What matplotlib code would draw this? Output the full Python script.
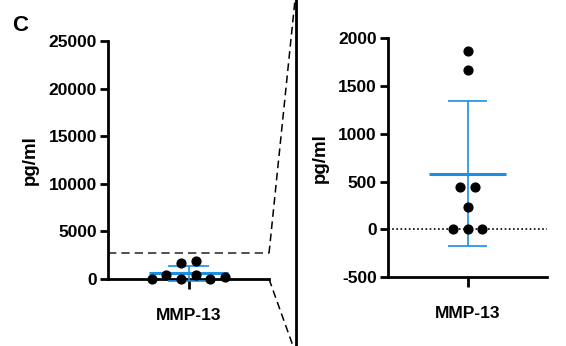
import numpy as np
import matplotlib.pyplot as plt
from matplotlib.lines import Line2D

plt.rcParams['font.family'] = ['Liberation Sans', 'DejaVu Sans']
plt.rcParams['font.weight'] = 'bold'
plt.rcParams['axes.unicode_minus'] = False

group = 'MMP-13'
values = [1870, 1670, 440, 440, 230, 0, 0, 0]       # pg/ml
zoom_top = 2700                                      # top of the dashed zoom box on the full panel
full_ticks = [0, 5000, 10000, 15000, 20000, 25000]
zoom_ticks = [-500, 0, 500, 1000, 1500, 2000]

blue = '#1a8fe3'
vals = np.array(values, dtype=float)
mean = vals.mean()
sd = vals.std(ddof=1)

# horizontal jitter of the dots (scatter dot plot layout)
jit_full = [0.09, -0.09, -0.28, 0.09, 0.45, -0.45, -0.09, 0.27]
jit_zoom = [0, 0, -0.09, 0.09, 0, -0.18, 0, 0.18]

fig = plt.figure(figsize=(5.66, 3.46), dpi=100)
ax1 = fig.add_axes([0.1908, 0.1936, 0.2845, 0.688])
ax2 = fig.add_axes([0.6855, 0.1994, 0.281, 0.690])


def style(ax, ticks):
    for s in ['top', 'right']:
        ax.spines[s].set_visible(False)
    for s in ['left', 'bottom']:
        ax.spines[s].set_linewidth(2.0)
    ax.set_yticks(ticks)
    ax.set_xticks([0])
    ax.set_xticklabels([group])
    ax.tick_params(width=2.0, length=6, labelsize=12.5, pad=2)
    ax.tick_params(axis='x', length=7, pad=14)
    ax.set_xlim(-1, 1)
    ax.set_ylabel('pg/ml', fontsize=13.5, fontweight='bold', labelpad=7)
    for lab in ax.get_xticklabels() + ax.get_yticklabels():
        lab.set_fontweight('bold')


def draw_group(ax, jit, cap, half):
    ax.hlines(mean, -half, half, color=blue, lw=2.2, zorder=3, clip_on=False)
    ax.vlines(0, mean - sd, mean + sd, color=blue, lw=1.2, zorder=3, clip_on=False)
    ax.hlines([mean - sd, mean + sd], -cap, cap, color=blue, lw=1.2, zorder=3, clip_on=False)
    ax.scatter(jit, vals, s=40, color='black', zorder=4, clip_on=False)


# full range panel
style(ax1, full_ticks)
ax1.set_ylim(0, 25000)
draw_group(ax1, jit_full, 0.25, 0.49)
ax1.hlines(zoom_top, -1, 1, color='#333333', lw=1.2, ls=(0, (5, 3)), clip_on=False)

# zoomed panel
style(ax2, zoom_ticks)
ax2.set_ylim(-500, 2000)
ax2.axhline(0, color='black', lw=1.2, ls=(0, (1, 1.5)), zorder=1)
draw_group(ax2, jit_zoom, 0.25, 0.49)

# connector lines between the panels
to_fig = fig.transFigure.inverted()
p_top = to_fig.transform(ax1.transData.transform((1, zoom_top)))
p_bot = to_fig.transform(ax1.transData.transform((1, 0)))
fig.add_artist(Line2D([p_top[0], 295 / 566], [p_top[1], 1.0], color='black',
                      lw=1.1, ls=(0, (5, 3)), transform=fig.transFigure))
fig.add_artist(Line2D([p_bot[0], 293 / 566], [p_bot[1], 0.0], color='black',
                      lw=1.1, ls=(0, (5, 3)), transform=fig.transFigure))
fig.add_artist(Line2D([296 / 566, 296 / 566], [0, 1], color='black', lw=2.0,
                      transform=fig.transFigure))

fig.text(12 / 566, 1 - 31 / 346, 'C', fontsize=16, fontweight='bold')

fig.savefig('out.png', dpi=100)
